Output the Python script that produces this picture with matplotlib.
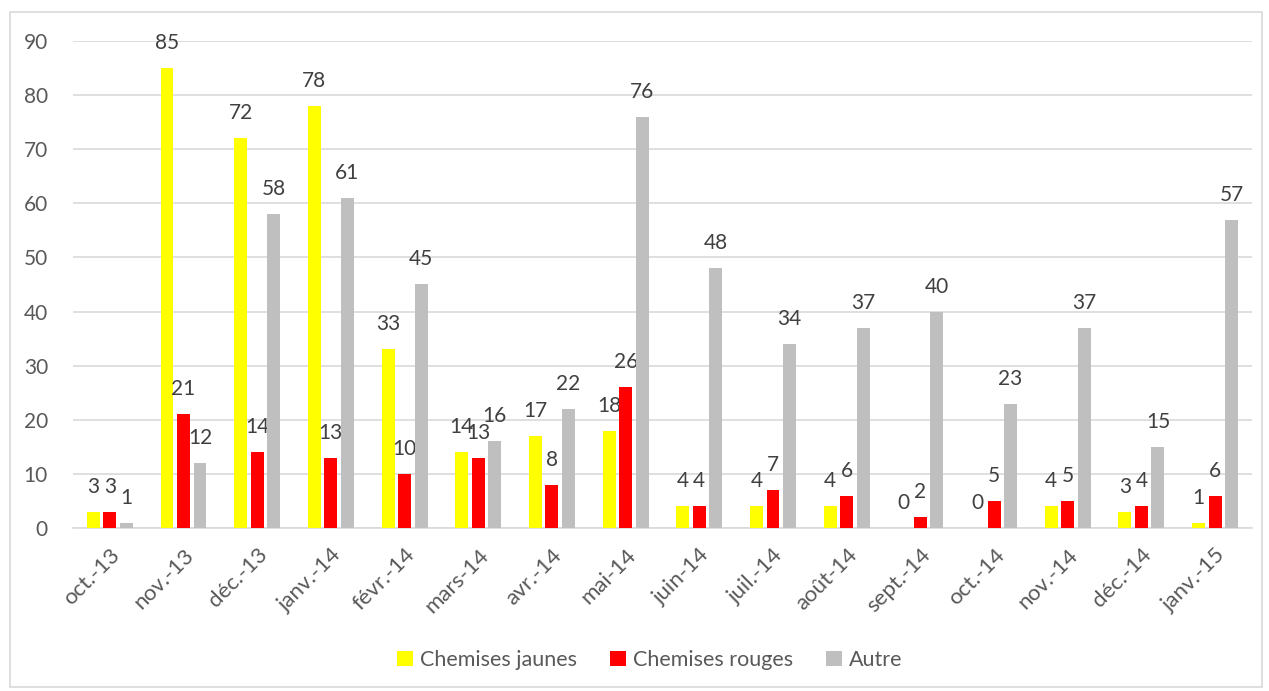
import matplotlib
matplotlib.use("Agg")
import matplotlib.pyplot as plt
from matplotlib.patches import Rectangle
import numpy as np

months = ["oct.-13", "nov.-13", "déc.-13", "janv.-14", "févr.-14", "mars-14",
          "avr.-14", "mai-14", "juin-14", "juil.-14", "août-14", "sept.-14",
          "oct.-14", "nov.-14", "déc.-14", "janv.-15"]
jaunes = [3, 85, 72, 78, 33, 14, 17, 18, 4, 4, 4, 0, 0, 4, 3, 1]
rouges = [3, 21, 14, 13, 10, 13, 8, 26, 4, 7, 6, 2, 5, 5, 4, 6]
autre = [1, 12, 58, 61, 45, 16, 22, 76, 48, 34, 37, 40, 23, 37, 15, 57]
series_names = ["Chemises jaunes", "Chemises rouges", "Autre"]
yticks = list(range(0, 91, 10))

colors = ["#FFFF00", "#FF0000", "#BFBFBF"]
label_color = "#404040"
tick_color = "#595959"
grid_color = "#D9D9D9"

plt.rcParams["font.family"] = ["Lato", "DejaVu Sans"]

fig = plt.figure(figsize=(12.69, 6.91), dpi=100)
ax = fig.add_axes([0.0575, 0.2359, 0.9291, 0.7048])

# chart border
fig.patches.append(Rectangle((10 / 1269, 4 / 691), 1252 / 1269, 675 / 691,
                             transform=fig.transFigure, fill=False,
                             edgecolor=grid_color, linewidth=1.2))

x = np.arange(len(months))
width = 0.176
step = 0.224
for i, (vals, name, c) in enumerate(zip([jaunes, rouges, autre], series_names, colors)):
    pos = x + (i - 1) * step
    ax.bar(pos, vals, width=width, color=c, label=name, zorder=3)
    for px, v in zip(pos, vals):
        ax.annotate(str(v), (px, v), xytext=(0, 18), textcoords="offset points",
                    ha="center", va="center", fontsize=15, color=label_color)

ax.set_xlim(-0.5, len(months) - 0.5)
ax.set_ylim(0, 90)
ax.set_yticks(yticks)
ax.yaxis.grid(True, color=grid_color, linewidth=1.2, zorder=0)
ax.set_axisbelow(True)
for s in ["top", "right", "left"]:
    ax.spines[s].set_visible(False)
ax.spines["bottom"].set_color(grid_color)
ax.spines["bottom"].set_linewidth(1.2)
ax.tick_params(axis="both", length=0, labelcolor=tick_color)
ax.tick_params(axis="y", pad=18, labelsize=15)
ax.set_xticks(x)
ax.set_xticklabels(months, rotation=45, ha="right", rotation_mode="anchor")
ax.tick_params(axis="x", pad=12, labelsize=16)

leg = fig.legend(loc="center", bbox_to_anchor=(0.512, 0.045), ncol=3, frameon=False,
                 fontsize=15.5, handlelength=0.75, handleheight=0.75, columnspacing=1.5,
                 handletextpad=0.35)
for t in leg.get_texts():
    t.set_color(tick_color)

fig.savefig("out.png", dpi=100)
